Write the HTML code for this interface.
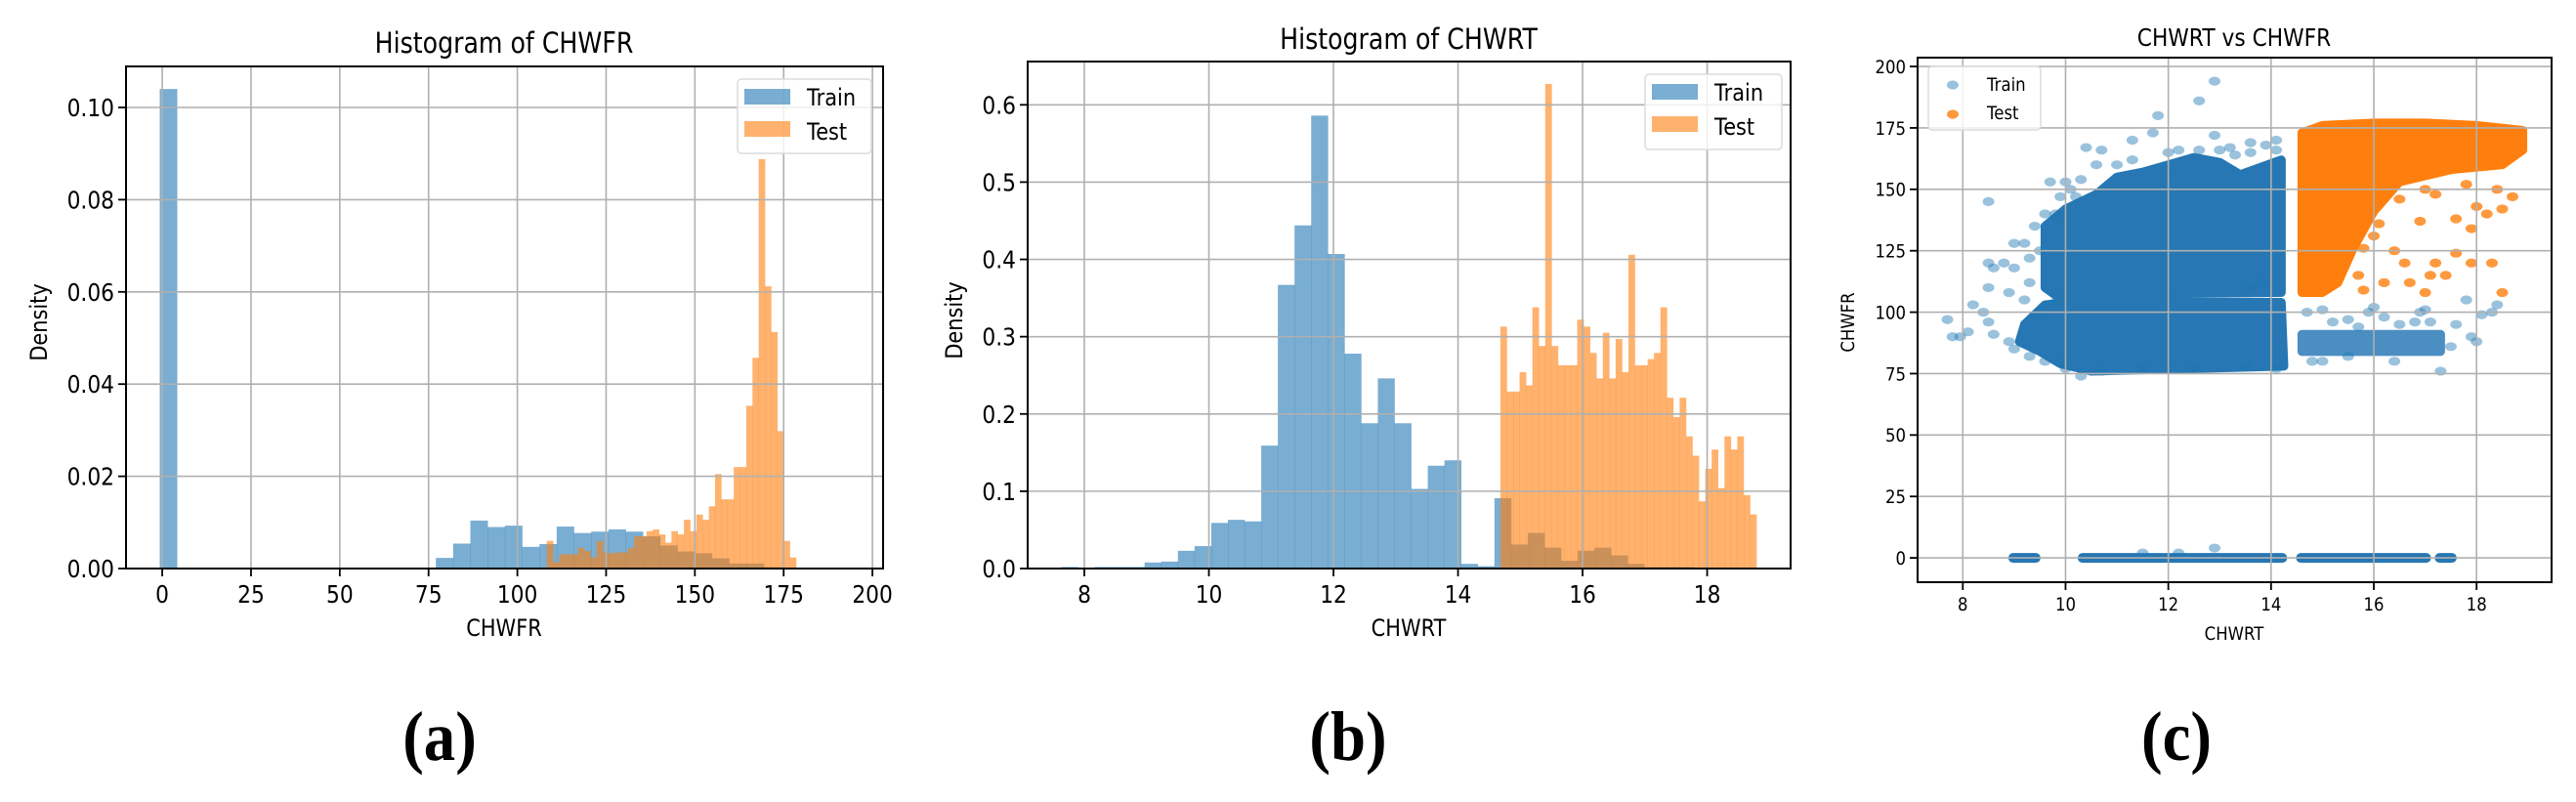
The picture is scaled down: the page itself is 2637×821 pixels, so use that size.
<!DOCTYPE html>
<html><head><meta charset="utf-8"><style>
html,body{margin:0;padding:0;background:#fff;}
svg{display:block;font-family:"DejaVu Sans","Liberation Sans",sans-serif;}
</style></head><body>
<svg id="fig" width="2637" height="821" viewBox="0 0 2637 821" xmlns="http://www.w3.org/2000/svg"></svg>
<script>
// ---------- data ----------
const histATrainStart = -0.7, histATrainWidth = 4.86;
const histATrain = [0.104,0,0,0,0,0,0,0,0,0,0,0,0,0,0,0,0.0023,0.0054,0.0104,0.0090,0.0093,0.0047,0.0053,0.0091,0.0077,0.0080,0.0085,0.0080,0.0070,0.0050,0.0037,0.0033,0.0022,0.0011,0.0011,0.0003,0.0002,0.0001,0.0001,0.0001];
const histATestStart = 108.3, histATestWidth = 1.755;
const histATest = [0.0060,0.0014,0.0031,0.0031,0.0031,0.0045,0.0038,0.0024,0.0060,0.0035,0.0033,0.0035,0.0035,0.0045,0.0070,0.0070,0.0081,0.0085,0.0074,0.0056,0.0081,0.0074,0.0106,0.0081,0.0117,0.0106,0.0135,0.0205,0.0150,0.0150,0.0220,0.0220,0.0353,0.0457,0.0888,0.0612,0.0513,0.0298,0.0060,0.0024];
const histBTrainStart = 7.63, histBTrainWidth = 0.2675;
const histBTrain = [0.002,0,0.002,0.002,0.002,0.0078,0.009,0.023,0.029,0.059,0.063,0.061,0.159,0.367,0.444,0.586,0.407,0.278,0.188,0.246,0.188,0.103,0.133,0.140,0.006,0.003,0.091,0.031,0.046,0.027,0.010,0.023,0.027,0.017,0.006,0.002,0.002,0.002,0.001,0.001];
const histBTestStart = 14.68, histBTestWidth = 0.1028;
const histBTest = [0.313,0.229,0.229,0.254,0.237,0.338,0.288,0.627,0.288,0.263,0.263,0.263,0.322,0.313,0.279,0.246,0.305,0.246,0.297,0.254,0.406,0.263,0.263,0.271,0.279,0.338,0.221,0.196,0.221,0.171,0.146,0.087,0.129,0.154,0.104,0.171,0.154,0.171,0.095,0.070];
const ticksAX = [0,25,50,75,100,125,150,175,200];
const ticksAY = [0,0.02,0.04,0.06,0.08,0.10];
const labelsAY = ["0.00","0.02","0.04","0.06","0.08","0.10"];
const ticksBX = [8,10,12,14,16,18];
const ticksBY = [0,0.1,0.2,0.3,0.4,0.5,0.6];
const labelsBY = ["0.0","0.1","0.2","0.3","0.4","0.5","0.6"];
const ticksCX = [8,10,12,14,16,18];
const ticksCY = [0,25,50,75,100,125,150,175,200];
// scatter: dense regions (outline vertices) and individual points
const trainDenseLower = [[9.2,95],[9.6,103],[10,104],[14.2,104],[14.25,78],[10.5,76],[9.9,79],[9.5,84],[9.1,88]];
const trainDenseUpper = [[9.6,110],[9.6,135],[10,142],[10.6,148],[11,155],[11.5,157],[12,160],[12.5,163],[13,161],[13.4,156],[14.2,162],[14.2,108],[9.8,107]];
const trainDenseRight = [[14.6,84],[17.3,84],[17.3,91],[14.6,91]];
const testDense = [[14.6,108],[14.6,173],[15,176],[16,177],[17,177],[18,176],[18.9,174],[18.9,166],[18.5,160],[17.5,158],[16.5,153],[16,141],[15.6,126],[15.3,112],[15.0,108]];
const trainZeroSegments = [[9.0,9.4],[10.35,14.2],[14.6,17.0],[17.3,17.5]];
const trainX = [7.7,7.8,7.95,8.1,8.2,8.4,8.5,8.6,8.5,8.6,8.5,8.8,8.5,9.0,9.2,9.4,9.0,9.3,8.9,9.7,10.3,10.2,10.4,10.7,11.3,11.7,11.8,12.6,12.9,12.9,12.2,13.6,14.1,13.2,9.8,9.5,17.3,10.3,16.0,15.0,15.5,16.5,17.6,17.9,18.1,18.3,18.4,17.8,17.0,16.8,15.5,15.0,16.4,17.5,18.0,12.9,12.2,11.5,14.7,15.2,15.9,16.2,17.1,16.9,14.8,15.7,
  9.5,9.3,9.6,9.9,10.1,10.6,11.0,11.3,12.0,12.6,13.0,13.3,13.6,13.9,14.1,10.0,9.2,9.8,13.8,13.6,8.9,9.0,9.3,9.6,10.0,10.7,11.5,12.5,13.5,14.1];
const trainY = [97,90,90,92,103,100,96,91,110,118,120,120,145,128,128,135,118,112,108,153,154,147,167,166,170,173,180,186,194,172,166,169,170,167,140,100,76,74,102,101,97,95,95,90,99,100,103,105,101,96,82,80,80,86,88,4,2,2,100,96,100,98,96,100,80,94,
  125,122,140,147,150,160,160,162,165,166,166,164,165,168,166,153,105,104,112,110,88,85,82,80,77,76,77,77,78,77];
const testX = [18.7,18.5,18.2,18.0,17.9,17.6,17.2,17.0,17.6,17.2,17.9,18.3,18.5,17.4,16.9,16.5,16.1,16.4,16.7,16.2,17.0,17.1,15.8,15.7,16.0,16.6,15.8,18.4,17.8];
const testY = [147,142,140,143,134,138,148,150,124,120,120,120,108,115,137,146,136,125,112,112,108,115,109,115,131,120,126,150,152];

// ---------- helpers ----------
const NS = "http://www.w3.org/2000/svg";
const svg = document.getElementById('fig');
function mk(tag, attrs, parent) {
  const e = document.createElementNS(NS, tag);
  for (const k in attrs) e.setAttribute(k, attrs[k]);
  (parent || svg).appendChild(e);
  return e;
}
function txt(x, y, s, size, anchor, rot, parent, sx) {
  const t = mk('text', {x: 0, y: 0, 'font-size': size, 'text-anchor': anchor, fill: '#000',
    transform: 'translate(' + x + ',' + y + ')' + (rot ? ' rotate(' + rot + ')' : '') + ' scale(' + (sx || 0.87) + ',1)'}, parent);
  t.textContent = s;
  return t;
}
function axis(L, R, T, B, x0, x1, y0, y1) {
  return {
    sx: v => L + (v - x0) / (x1 - x0) * (R - L),
    sy: v => B - (v - y0) / (y1 - y0) * (B - T),
    L, R, T, B
  };
}
function drawFrame(ax, g, xt, xl, yt, yl, fs) {
  xt.forEach(v => {
    const l = mk('line', {x1: ax.sx(v), x2: ax.sx(v), y1: ax.T, y2: ax.B, stroke: '#b0b0b0', 'stroke-width': 1.6}, g);
    
    
  });
  yt.forEach(v => {
    const l = mk('line', {x1: ax.L, x2: ax.R, y1: ax.sy(v), y2: ax.sy(v), stroke: '#b0b0b0', 'stroke-width': 1.6}, g);
    
    
  });
  const f = mk('rect', {x: ax.L, y: ax.T, width: ax.R - ax.L, height: ax.B - ax.T, fill: 'none', stroke: '#000', 'stroke-width': 2}, g);
  
  
  xt.forEach((v, i) => {
    mk('line', {x1: ax.sx(v), x2: ax.sx(v), y1: ax.B, y2: ax.B + 8, stroke: '#000', 'stroke-width': 1.8}, g);
    const t = txt(ax.sx(v), ax.B + fs + 10, xl[i], fs, 'middle', 0, g);
    
    
  });
  yt.forEach((v, i) => {
    mk('line', {x1: ax.L - 8, x2: ax.L, y1: ax.sy(v), y2: ax.sy(v), stroke: '#000', 'stroke-width': 1.8}, g);
    const t = txt(ax.L - 12, ax.sy(v) + fs * 0.36, yl[i], fs, 'end', 0, g);
    
    
  });
}
function drawHist(ax, g, start, width, vals, color, name) {
  vals.forEach((v, i) => {
    if (v <= 0) return;
    const x0 = ax.sx(start + i * width), x1 = ax.sx(start + (i + 1) * width);
    const r = mk('rect', {x: x0, y: ax.sy(v), width: x1 - x0 + 0.3, height: ax.B - ax.sy(v), fill: color, 'fill-opacity': 0.6}, g);
    
    
  });
}
function legendHist(g, x, y, w, h) {
  const b = mk('rect', {x: x, y: y, width: w, height: h, rx: 4, fill: '#fff', 'fill-opacity': 0.8, stroke: '#dcdcdc', 'stroke-width': 1.5}, g);
  
  
  const p1 = mk('rect', {x: x + 7, y: y + 10, width: 47, height: 16, fill: '#1f77b4', 'fill-opacity': 0.6}, g);
  
  
  const t1 = txt(x + 71, y + 27, 'Train', 24, 'start', 0, g);
  
  
  const p2 = mk('rect', {x: x + 7, y: y + 43, width: 47, height: 16, fill: '#ff7f0e', 'fill-opacity': 0.6}, g);
  
  
  const t2 = txt(x + 71, y + 62, 'Test', 24, 'start', 0, g);
  
  
}

// ---------- panel A ----------
const gA = mk('g', {});


const A = axis(129, 904, 68, 582, -10.2, 203, 0, 0.1089);
drawHist(A, gA, histATrainStart, histATrainWidth, histATrain, '#1f77b4', 'bar-train');
drawHist(A, gA, histATestStart, histATestWidth, histATest, '#ff7f0e', 'bar-test');
drawFrame(A, gA, ticksAX, ticksAX.map(String), ticksAY, labelsAY, 25);
legendHist(gA, 755, 81, 137, 76);
const tA = txt(516, 54, 'Histogram of CHWFR', 29, 'middle', 0, gA);


const xA = txt(516, 651, 'CHWFR', 24, 'middle', 0, gA);


const yA = txt(48, 330, 'Density', 24, 'middle', -90, gA);



// ---------- panel B ----------
const gB = mk('g', {});


const B = axis(1052, 1833, 63, 582, 7.09, 19.34, 0, 0.656);
drawHist(B, gB, histBTrainStart, histBTrainWidth, histBTrain, '#1f77b4', 'bar-train');
drawHist(B, gB, histBTestStart, histBTestWidth, histBTest, '#ff7f0e', 'bar-test');
drawFrame(B, gB, ticksBX, ticksBX.map(String), ticksBY, labelsBY, 25);
legendHist(gB, 1684, 76, 140, 77);
const tB = txt(1442, 50, 'Histogram of CHWRT', 29, 'middle', 0, gB);


const xB = txt(1442, 651, 'CHWRT', 24, 'middle', 0, gB);


const yB = txt(985, 328, 'Density', 24, 'middle', -90, gB);



// ---------- panel C ----------
const gC = mk('g', {});


const C = axis(1963, 2612, 59, 596, 7.12, 19.46, -9.9, 203.6);
function poly(pts, color, name) {
  const p = mk('polygon', {points: pts.map(q => C.sx(q[0]) + ',' + C.sy(q[1])).join(' '), fill: color, stroke: color, 'stroke-width': 9, 'stroke-linejoin': 'round'}, gC);
  
  
}
poly(trainDenseLower, '#2677b3', 'train-dense-region');
poly(trainDenseUpper, '#2677b3', 'train-dense-region');
poly(trainDenseRight, '#4b8ec2', 'train-dense-region');
trainZeroSegments.forEach(s => {
  const r = mk('rect', {x: C.sx(s[0]) - 6, y: C.sy(0) - 5, width: C.sx(s[1]) - C.sx(s[0]) + 12, height: 10, rx: 5, fill: '#2677b3'}, gC);
  
  
});
trainX.forEach((x, i) => {
  const c = mk('ellipse', {cx: C.sx(x), cy: C.sy(trainY[i]), rx: 6, ry: 4.6, fill: '#1f77b4', 'fill-opacity': 0.45}, gC);
  
  
});
poly(testDense, '#ff7f0e', 'test-dense-region');
testX.forEach((x, i) => {
  const c = mk('ellipse', {cx: C.sx(x), cy: C.sy(testY[i]), rx: 6, ry: 4.6, fill: '#ff7f0e', 'fill-opacity': 0.8}, gC);
  
  
});
drawFrame(C, gC, ticksCX, ticksCX.map(String), ticksCY, ticksCY.map(String), 19);
const lb = mk('rect', {x: 1974, y: 68, width: 115, height: 65, rx: 4, fill: '#fff', 'fill-opacity': 0.8, stroke: '#dcdcdc', 'stroke-width': 1.5}, gC);


const lm1 = mk('ellipse', {cx: 1999, cy: 87, rx: 6, ry: 4.6, fill: '#1f77b4', 'fill-opacity': 0.45}, gC);


const lt1 = txt(2034, 93, 'Train', 19, 'start', 0, gC);


const lm2 = mk('ellipse', {cx: 1999, cy: 117, rx: 6, ry: 4.6, fill: '#ff7f0e', 'fill-opacity': 0.8}, gC);


const lt2 = txt(2034, 122, 'Test', 19, 'start', 0, gC);


const tC = txt(2287, 47, 'CHWRT vs CHWFR', 25, 'middle', 0, gC);


const xC = txt(2287, 655, 'CHWRT', 19, 'middle', 0, gC);


const yC = txt(1898, 330, 'CHWFR', 19, 'middle', -90, gC);



// ---------- subfigure labels ----------
[['(a)', 450], ['(b)', 1380], ['(c)', 2228]].forEach(p => {
  const t = mk('text', {x: 0, y: 0, 'font-size': 72, 'font-weight': 'bold', 'text-anchor': 'middle', fill: '#000',
    'font-family': '"Liberation Serif", serif', transform: 'translate(' + p[1] + ',778) scale(0.9,1)'});
  t.textContent = p[0];
  
  
});
</script>
</body></html>
